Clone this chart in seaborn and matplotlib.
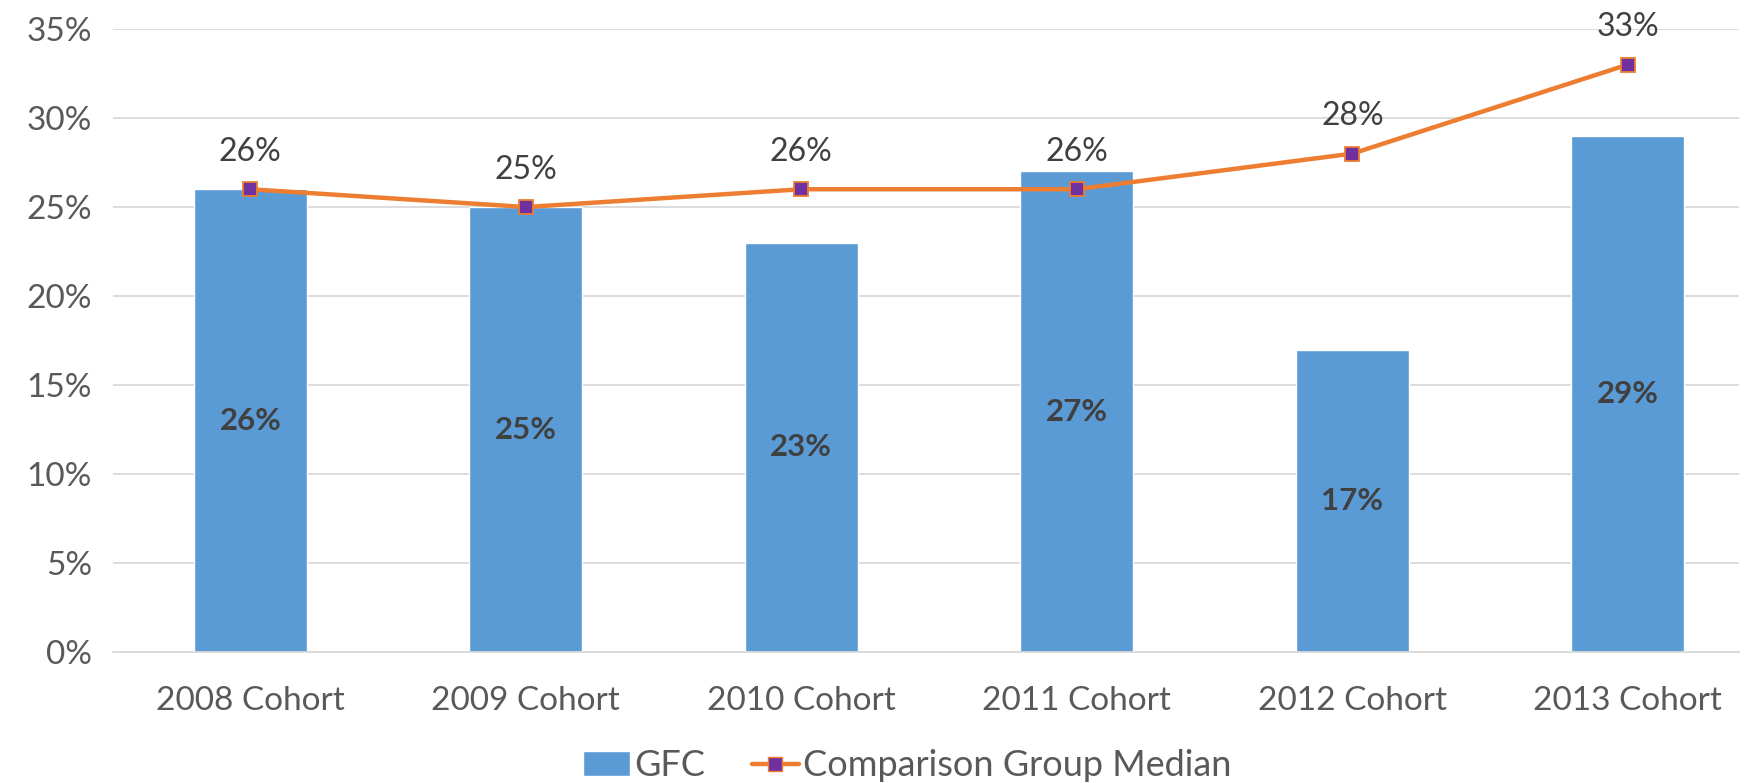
import matplotlib
matplotlib.use("Agg")
import matplotlib.pyplot as plt
from matplotlib.lines import Line2D
from matplotlib.patches import Patch
import seaborn as sns

cohorts = ["2008 Cohort", "2009 Cohort", "2010 Cohort", "2011 Cohort", "2012 Cohort", "2013 Cohort"]
gfc = [26, 25, 23, 27, 17, 29]
median = [26, 25, 26, 26, 28, 33]
yticks = [0, 5, 10, 15, 20, 25, 30, 35]

bar_color = "#5B9BD5"
line_color = "#ED7D31"
marker_color = "#7030A0"
text_color = "#595959"

sns.set_style("white")
plt.rcParams["font.family"] = ["Lato", "DejaVu Sans"]

fig = plt.figure(figsize=(17.65, 7.83), dpi=100)
ax = fig.add_axes([0.0638, 0.167, 0.9217, 0.796])

sns.barplot(x=cohorts, y=gfc, color=bar_color, width=0.41, saturation=1, ax=ax, zorder=2)
sns.pointplot(x=cohorts, y=median, color=line_color, markers="s", linewidth=3.2,
              markersize=10, markerfacecolor=marker_color, markeredgecolor=line_color,
              markeredgewidth=1.3, ax=ax, zorder=3)

for i, v in enumerate(gfc):
    ax.text(i, v / 2, f"{v}%", ha="center", va="center", fontsize=22.5,
            fontweight="bold", color="#404040", zorder=4)
for i, v in enumerate(median):
    ax.annotate(f"{v}%", (i, v), xytext=(0, 27), textcoords="offset points",
                ha="center", va="center", fontsize=23, color="#404040", zorder=4)

ax.set_ylim(0, 35)
ax.set_xlim(-0.5, 5.405)
ax.set_yticks(yticks)
ax.set_yticklabels([f"{t}%" for t in yticks])
ax.yaxis.grid(True, color="#D9D9D9", linewidth=1.3, zorder=0)
ax.set_axisbelow(True)
ax.tick_params(axis="both", length=0, labelsize=24, labelcolor=text_color)
ax.tick_params(axis="x", pad=24)
ax.tick_params(axis="y", pad=15)
ax.set_xlabel("")
ax.set_ylabel("")
for s in ["top", "right", "left"]:
    ax.spines[s].set_visible(False)
ax.spines["bottom"].set_color("#D9D9D9")
ax.spines["bottom"].set_linewidth(1.3)

handles = [
    Patch(facecolor=bar_color, label="GFC"),
    Line2D([], [], color=line_color, linewidth=3.2, marker="s", markersize=10,
           markerfacecolor=marker_color, markeredgecolor=line_color,
           label="Comparison Group Median"),
]
leg = fig.legend(handles=handles, loc="center", bbox_to_anchor=(0.514, 0.022),
                 ncol=2, frameon=False, fontsize=26, handlelength=1.3,
                 handletextpad=0.1, columnspacing=1.3)
for t in leg.get_texts():
    t.set_color(text_color)

fig.savefig("out.png", dpi=100)
